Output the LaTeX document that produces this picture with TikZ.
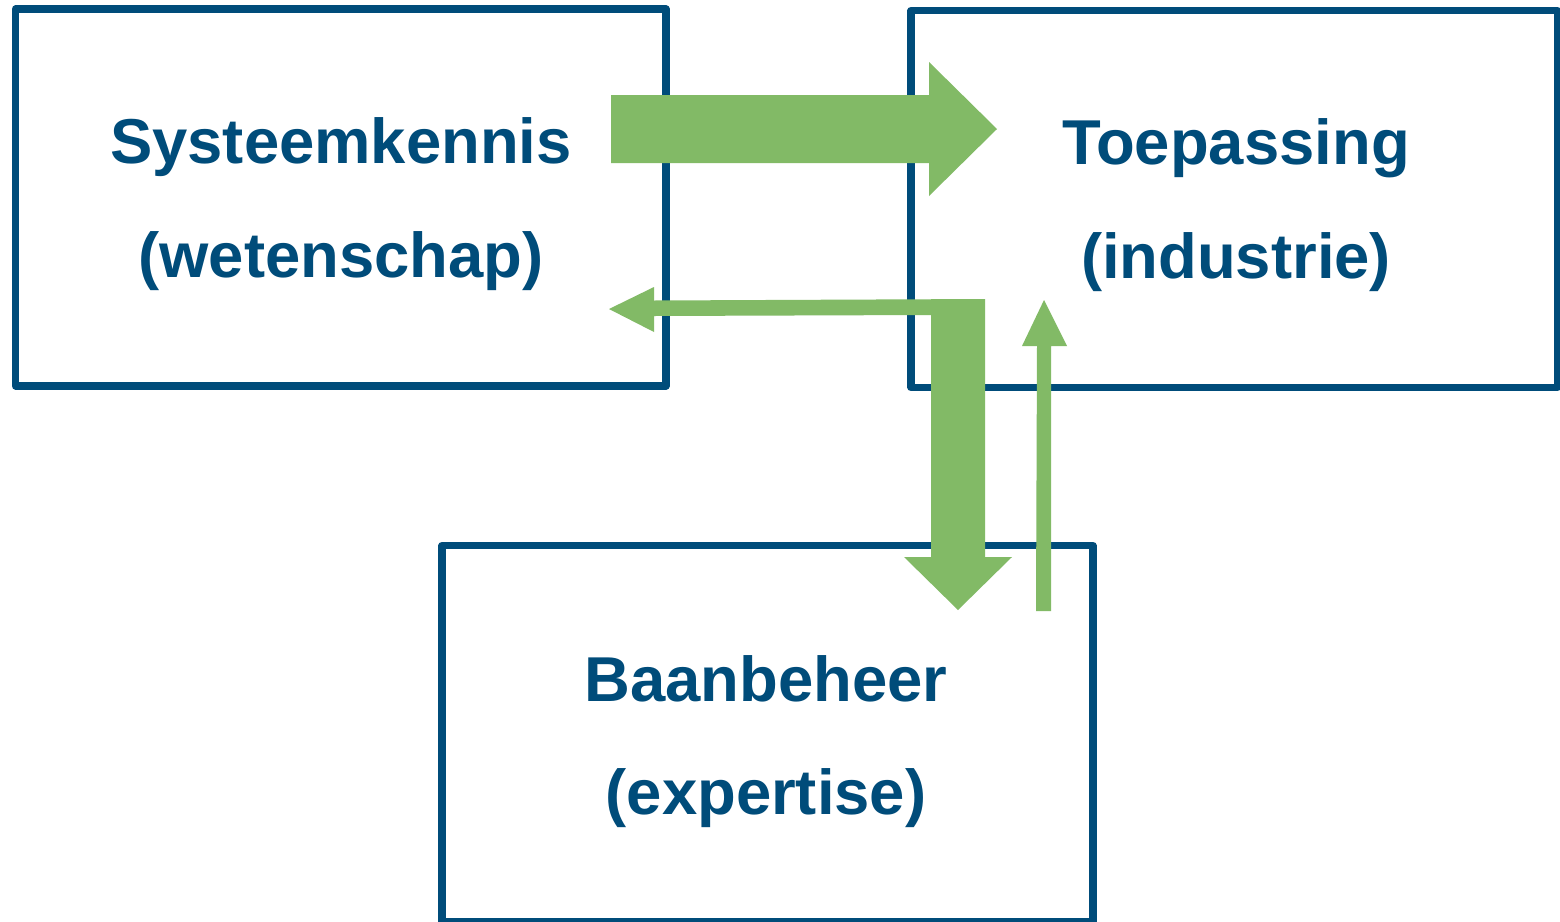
\documentclass[tikz,border=0pt]{standalone}
\usepackage{fontspec}
\setmainfont{Liberation Sans}
\definecolor{boxblue}{RGB}{0,76,122}
\definecolor{flowgreen}{RGB}{130,186,102}
\begin{document}
\begin{tikzpicture}[x=0.5pt,y=-0.5pt,
  box/.style={draw=boxblue,line width=3.6pt,line join=round},
  lbl/.style={anchor=base,text=boxblue,font=\fontsize{31.7}{38}\selectfont\bfseries,inner sep=0pt},
  flow/.style={fill=flowgreen,draw=none}]
\useasboundingbox[fill=white] (0,0) rectangle (1560,922);
% boxes
\draw[box] (15.5,9) rectangle (666,386);
\draw[box] (911,10.5) rectangle (1557.5,387.5);
\draw[box] (442,545.5) rectangle (1093,921.5);
% labels
\node[lbl] (a1) at (341,163) {Systeemkennis};
\node[lbl] (a2) at (341,277) {(wetenschap)};
\node[lbl] (b1) at (1236,164) {Toepassing};
\node[lbl] (b2) at (1236,278) {(industrie)};
\node[lbl] (c1) at (766,701) {Baanbeheer};
\node[lbl] (c2) at (766,814) {(expertise)};
% arrows
\fill[flow] (611,95) -- (929,95) -- (929,62) -- (997,129) -- (929,196) -- (929,163) -- (611,163) -- cycle;
\fill[flow] (609,309) -- (654,287) -- (654,300.5) -- (985,299) -- (985,557) -- (1012,557)
  -- (958,610) -- (904,557) -- (931,557) -- (931,315) -- (654,316) -- (654,332) -- cycle;
\fill[flow] (1036,611) -- (1037,346) -- (1022,346) -- (1044,300) -- (1067,346) -- (1051,346) -- (1051,611) -- cycle;
\end{tikzpicture}
\end{document}
